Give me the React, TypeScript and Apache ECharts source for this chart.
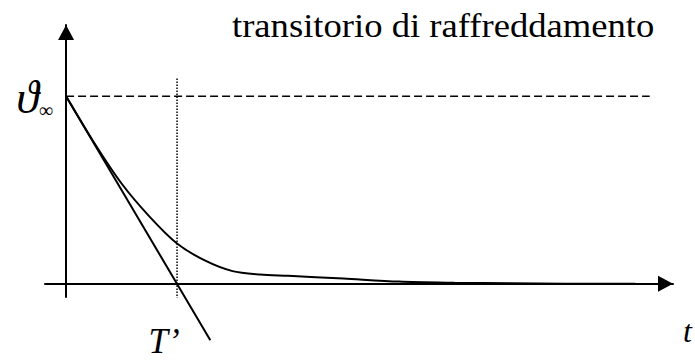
import React, { useEffect, useRef } from "react";
import * as echarts from "echarts";

const WIDTH = 695;
const HEIGHT = 361;

// Time measured in units of T' (tangent intercept), temperature in units of ϑ∞
const curveTime = [0, 0.25, 0.5, 0.75, 1.0, 1.25, 1.5, 1.75, 2.0, 2.5, 3.0, 3.5, 4.0, 4.5, 5.13];
const curveTheta = [1, 0.755, 0.535, 0.36, 0.215, 0.125, 0.068, 0.05, 0.043, 0.028, 0.012, 0.006, 0.003, 0.001, 0];

const tangentTime = [0, 1.3];
const tangentTheta = [1, -0.3];

const thetaInf = 1;
const tPrime = 1;
const asymptoteEnd = 5.26;
const markerSpan = [-0.08, 1.1];

const xRange = [-0.19, 5.47];
const yRange = [-0.07, 1.38];

const titleText = "transitorio di raffreddamento";
const thetaSymbol = "ϑ";
const infSymbol = "∞";
const tPrimeLabel = "T’";
const timeLabel = "t";

const SERIF = "'Liberation Serif', 'Times New Roman', serif";

export default function App() {
  const ref = useRef<HTMLDivElement>(null);

  useEffect(() => {
    if (!ref.current) return;
    const chart = echarts.init(ref.current, undefined, { renderer: "svg" });

    const axisLine = {
      show: true,
      onZero: true,
      symbol: ["none", "triangle"],
      symbolSize: [16, 15],
      symbolOffset: [0, -7.5],
      lineStyle: { color: "#000", width: 2 },
    };

    chart.setOption({
      animation: false,
      backgroundColor: "#fff",
      grid: { left: 45, right: 22, top: 25, bottom: 64, containLabel: false },
      xAxis: {
        type: "value",
        min: xRange[0],
        max: xRange[1],
        axisLine,
        axisTick: { show: false },
        axisLabel: { show: false },
        splitLine: { show: false },
      },
      yAxis: {
        type: "value",
        min: yRange[0],
        max: yRange[1],
        axisLine,
        axisTick: { show: false },
        axisLabel: { show: false },
        splitLine: { show: false },
      },
      series: [
        {
          name: "asintoto",
          type: "line",
          data: [[0, thetaInf], [asymptoteEnd, thetaInf]],
          showSymbol: false,
          lineStyle: { color: "#000", width: 1.5, type: [8, 4] },
        },
        {
          name: "T'",
          type: "line",
          data: [[tPrime, markerSpan[0]], [tPrime, markerSpan[1]]],
          showSymbol: false,
          lineStyle: { color: "#000", width: 1.5, type: [1.5, 1.5] },
        },
        {
          name: "tangente",
          type: "line",
          clip: false,
          data: tangentTime.map((t, i) => [t, tangentTheta[i]]),
          showSymbol: false,
          lineStyle: { color: "#000", width: 2 },
        },
        {
          name: "raffreddamento",
          type: "line",
          data: curveTime.map((t, i) => [t, curveTheta[i]]),
          showSymbol: false,
          smooth: 0.3,
          lineStyle: { color: "#000", width: 2 },
        },
      ],
    });

    const at = (x: number, y: number) => chart.convertToPixel({ gridIndex: 0 }, [x, y]) as number[];
    const pInf = at(0, thetaInf);
    const pT = at(tPrime, 0);
    const pEnd = at(xRange[1], 0);

    const txt = (text: string, x: number, y: number, size: number, align: string, italic = true) => ({
      type: "text",
      x,
      y,
      silent: true,
      style: {
        text,
        fill: "#000",
        font: `${italic ? "italic " : ""}${size}px ${SERIF}`,
        align,
        verticalAlign: "middle",
      },
    });

    chart.setOption({
      graphic: [
        {
          type: "text",
          x: 232,
          y: 26,
          scaleX: 1.077,
          silent: true,
          style: {
            text: titleText,
            fill: "#000",
            font: `34px ${SERIF}`,
            align: "left",
            verticalAlign: "middle",
          },
        },
        {
          type: "text",
          x: pInf[0] - 13,
          y: pInf[1] + 1,
          silent: true,
          style: {
            text: `{v|${thetaSymbol}}{s|${infSymbol}}`,
            align: "right",
            verticalAlign: "middle",
            rich: {
              v: { font: `italic 46px ${SERIF}`, fill: "#000", verticalAlign: "middle" },
              s: { font: `20px ${SERIF}`, fill: "#000", verticalAlign: "bottom" },
            },
          },
        },
        txt(tPrimeLabel, pT[0] - 13, pT[1] + 58, 35, "center"),
        txt(timeLabel, pEnd[0] + 10, pEnd[1] + 47, 32, "left"),
      ],
    });

    return () => chart.dispose();
  }, []);

  return (
    <div
      ref={ref}
      style={{ position: "fixed", left: 0, top: 0, width: WIDTH, height: HEIGHT, background: "#fff" }}
    />
  );
}
